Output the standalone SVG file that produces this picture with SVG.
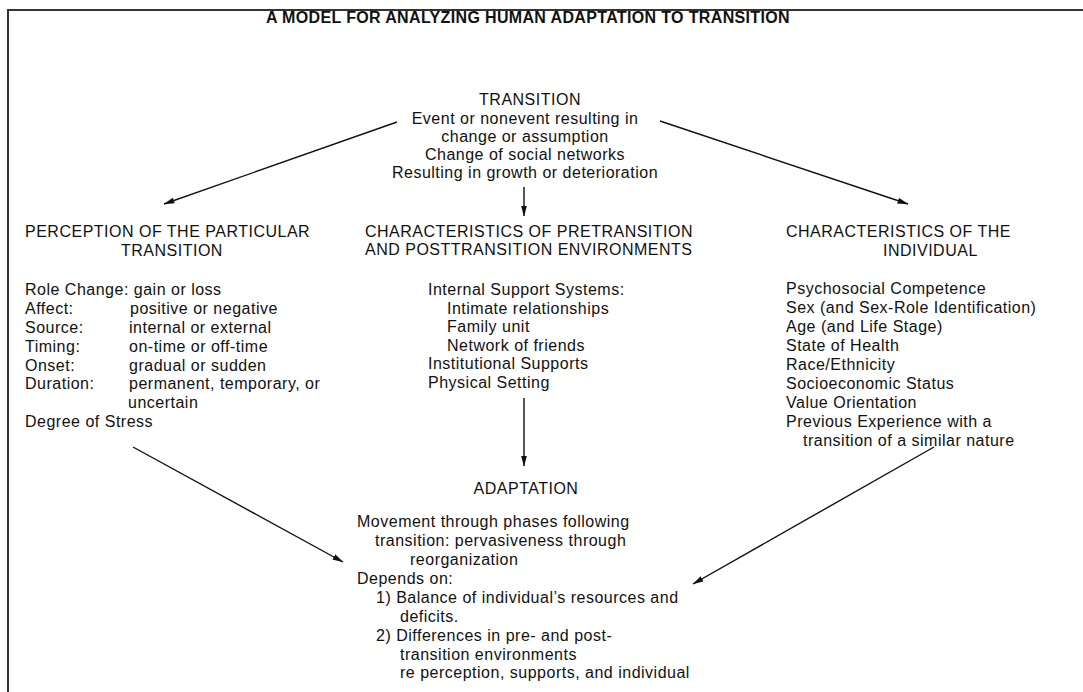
<svg xmlns="http://www.w3.org/2000/svg" width="1083" height="692" viewBox="0 0 1083 692">
  <style>
    .t { font-family: "Liberation Sans", Arial, Helvetica, sans-serif; font-size: 16px; letter-spacing: 0.5px; fill: #111; }
    .title { font-family: "Liberation Sans", Arial, Helvetica, sans-serif; font-size: 16px; font-weight: bold; letter-spacing: 0.35px; fill: #111; }
    .mid { text-anchor: middle; }
    .frame { fill: none; stroke: #333; stroke-width: 2; }
    .conn line { stroke: #111; stroke-width: 1.4; marker-end: url(#head); }
  </style>
  <defs>
    <marker id="head" viewBox="0 0 11 6" refX="10.5" refY="3" markerWidth="11" markerHeight="6" markerUnits="userSpaceOnUse" orient="auto">
      <path d="M0,0 L11,3 L0,6 Z" fill="#111"/>
    </marker>
  </defs>
  <rect width="1083" height="692" fill="#fff"/>

  <!-- outer frame (open at the bottom) -->
  <path class="frame" d="M8,692 V10 H1083"/>

  <text class="title mid" x="528" y="23">A MODEL FOR ANALYZING HUMAN ADAPTATION TO TRANSITION</text>

  <g id="transition">
    <text class="t mid" x="530" y="105">TRANSITION</text>
    <text class="t mid" x="525" y="124">Event or nonevent resulting in</text>
    <text class="t mid" x="525" y="142">change or assumption</text>
    <text class="t mid" x="525" y="160">Change of social networks</text>
    <text class="t mid" x="525" y="178">Resulting in growth or deterioration</text>
  </g>

  <g id="perception">
    <text class="t" x="25" y="237">PERCEPTION OF THE PARTICULAR</text>
    <text class="t" x="121" y="256">TRANSITION</text>
    <text class="t" x="25" y="295">Role Change: gain or loss</text>
    <text class="t" x="25" y="314">Affect:</text><text class="t" x="130" y="314">positive or negative</text>
    <text class="t" x="25" y="333">Source:</text><text class="t" x="129" y="333">internal or external</text>
    <text class="t" x="25" y="352">Timing:</text><text class="t" x="129" y="352">on-time or off-time</text>
    <text class="t" x="25" y="371">Onset:</text><text class="t" x="129" y="371">gradual or sudden</text>
    <text class="t" x="25" y="389">Duration:</text><text class="t" x="129" y="389">permanent, temporary, or</text>
    <text class="t" x="128" y="408">uncertain</text>
    <text class="t" x="25" y="427">Degree of Stress</text>
  </g>

  <g id="environments">
    <text class="t" x="365" y="237">CHARACTERISTICS OF PRETRANSITION</text>
    <text class="t" x="365" y="255">AND POSTTRANSITION ENVIRONMENTS</text>
    <text class="t" x="428" y="295">Internal Support Systems:</text>
    <text class="t" x="447" y="313.5">Intimate relationships</text>
    <text class="t" x="447" y="332">Family unit</text>
    <text class="t" x="447" y="350.5">Network of friends</text>
    <text class="t" x="428" y="369">Institutional Supports</text>
    <text class="t" x="428" y="387.5">Physical Setting</text>
  </g>

  <g id="individual">
    <text class="t" x="786" y="237">CHARACTERISTICS OF THE</text>
    <text class="t" x="883" y="256">INDIVIDUAL</text>
    <text class="t" x="786" y="294">Psychosocial Competence</text>
    <text class="t" x="786" y="313">Sex (and Sex-Role Identification)</text>
    <text class="t" x="786" y="332">Age (and Life Stage)</text>
    <text class="t" x="786" y="351">State of Health</text>
    <text class="t" x="786" y="370">Race/Ethnicity</text>
    <text class="t" x="786" y="389">Socioeconomic Status</text>
    <text class="t" x="786" y="408">Value Orientation</text>
    <text class="t" x="786" y="427">Previous Experience with a</text>
    <text class="t" x="803" y="446">transition of a similar nature</text>
  </g>

  <g id="adaptation">
    <text class="t mid" x="526" y="494">ADAPTATION</text>
    <text class="t" x="357" y="527">Movement through phases following</text>
    <text class="t" x="375" y="546">transition: pervasiveness through</text>
    <text class="t" x="410" y="565">reorganization</text>
    <text class="t" x="357" y="584">Depends on:</text>
    <text class="t" x="376" y="603">1) Balance of individual’s resources and</text>
    <text class="t" x="400" y="621.5">deficits.</text>
    <text class="t" x="376" y="640.5">2) Differences in pre- and post-</text>
    <text class="t" x="400" y="659.5">transition environments</text>
    <text class="t" x="400" y="678">re perception, supports, and individual</text>
  </g>

  <g id="connectors" class="conn">
    <line x1="397" y1="122" x2="164" y2="204"/>
    <line x1="660" y1="121" x2="908" y2="204"/>
    <line x1="524" y1="187" x2="524" y2="216"/>
    <line x1="524" y1="398" x2="524" y2="466"/>
    <line x1="133" y1="447" x2="343" y2="562"/>
    <line x1="934" y1="447" x2="693" y2="584"/>
  </g>
</svg>
